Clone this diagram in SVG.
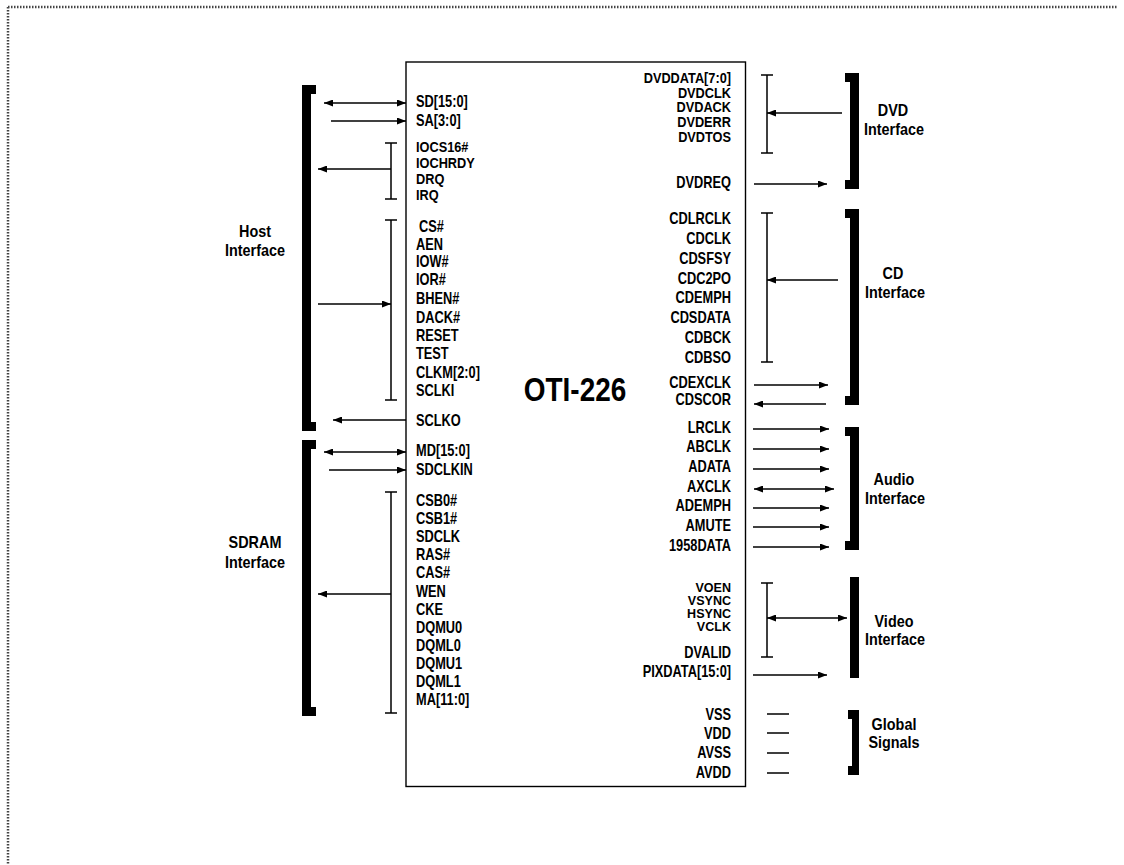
<svg xmlns="http://www.w3.org/2000/svg" width="1124" height="865" viewBox="0 0 1124 865">
<style>
.t{font-family:"Liberation Sans",Arial,sans-serif;font-weight:bold;font-size:16px;fill:#000}
.c{font-size:15px}
.s{font-size:13.5px}
.e{text-anchor:end}
.m{text-anchor:middle;font-size:16px}
.w{stroke:#000;stroke-width:1.5;fill:none}
.a{marker-end:url(#ah)}
.d{marker-start:url(#ah);marker-end:url(#ah)}
.br{fill:#000}
</style>
<defs>
<marker id="ah" viewBox="0 0 9 7" refX="9" refY="3.5" markerWidth="9" markerHeight="7" markerUnits="userSpaceOnUse" orient="auto-start-reverse"><path d="M0,0 L9,3.5 L0,7 z" fill="#000"/></marker>
</defs>
<rect width="1124" height="865" fill="#fff"/>
<g id="border">
<path d="M8,7 H1117 M8,7 V865" stroke="#444" stroke-width="2.5" stroke-dasharray="1.5 1.5" fill="none"/>
</g>
<g id="chip">
<rect x="406" y="62" width="339.5" height="724.5" fill="none" stroke="#000" stroke-width="1.4"/>
<text class="t" text-anchor="middle" transform="translate(575,400.5) scale(0.86,1)" style="font-size:32.5px">OTI-226</text>
</g>
<g id="host-pins">
<text class="t" transform="translate(416,107) scale(0.8,1)">SD[15:0]</text>
<text class="t" transform="translate(416,125.5) scale(0.8,1)">SA[3:0]</text>
<text class="t c" transform="translate(416,151.5) scale(0.85,1)">IOCS16#</text>
<text class="t c" transform="translate(416,167.5) scale(0.85,1)">IOCHRDY</text>
<text class="t c" transform="translate(416,184) scale(0.85,1)">DRQ</text>
<text class="t c" transform="translate(416,200) scale(0.85,1)">IRQ</text>
<text class="t" transform="translate(419,231.5) scale(0.8,1)">CS#</text>
<text class="t" transform="translate(416,249.5) scale(0.8,1)">AEN</text>
<text class="t" transform="translate(416,267) scale(0.8,1)">IOW#</text>
<text class="t" transform="translate(416,285) scale(0.8,1)">IOR#</text>
<text class="t" transform="translate(416,304) scale(0.8,1)">BHEN#</text>
<text class="t" transform="translate(416,322.5) scale(0.8,1)">DACK#</text>
<text class="t" transform="translate(416,340.5) scale(0.8,1)">RESET</text>
<text class="t" transform="translate(416,359) scale(0.8,1)">TEST</text>
<text class="t" transform="translate(416,377.5) scale(0.8,1)">CLKM[2:0]</text>
<text class="t" transform="translate(416,396) scale(0.8,1)">SCLKI</text>
<text class="t" transform="translate(416,426) scale(0.8,1)">SCLKO</text>
</g>
<g id="sdram-pins">
<text class="t" transform="translate(416,455.5) scale(0.8,1)">MD[15:0]</text>
<text class="t" transform="translate(416,475) scale(0.8,1)">SDCLKIN</text>
<text class="t" transform="translate(416,506) scale(0.8,1)">CSB0#</text>
<text class="t" transform="translate(416,524) scale(0.8,1)">CSB1#</text>
<text class="t" transform="translate(416,542) scale(0.8,1)">SDCLK</text>
<text class="t" transform="translate(416,560) scale(0.8,1)">RAS#</text>
<text class="t" transform="translate(416,578) scale(0.8,1)">CAS#</text>
<text class="t" transform="translate(416,596.5) scale(0.8,1)">WEN</text>
<text class="t" transform="translate(416,614.5) scale(0.8,1)">CKE</text>
<text class="t" transform="translate(416,632.5) scale(0.8,1)">DQMU0</text>
<text class="t" transform="translate(416,651) scale(0.8,1)">DQML0</text>
<text class="t" transform="translate(416,669) scale(0.8,1)">DQMU1</text>
<text class="t" transform="translate(416,687) scale(0.8,1)">DQML1</text>
<text class="t" transform="translate(416,705) scale(0.8,1)">MA[11:0]</text>
</g>
<g id="dvd-pins">
<text class="t c e" transform="translate(731,83) scale(0.85,1)">DVDDATA[7:0]</text>
<text class="t c e" transform="translate(731,97.5) scale(0.85,1)">DVDCLK</text>
<text class="t c e" transform="translate(731,112) scale(0.85,1)">DVDACK</text>
<text class="t c e" transform="translate(731,126.5) scale(0.85,1)">DVDERR</text>
<text class="t c e" transform="translate(731,141.5) scale(0.85,1)">DVDTOS</text>
<text class="t e" transform="translate(731,188) scale(0.8,1)">DVDREQ</text>
</g>
<g id="cd-pins">
<text class="t e" transform="translate(731,223.5) scale(0.8,1)">CDLRCLK</text>
<text class="t e" transform="translate(731,243.5) scale(0.8,1)">CDCLK</text>
<text class="t e" transform="translate(731,263.5) scale(0.8,1)">CDSFSY</text>
<text class="t e" transform="translate(731,283.5) scale(0.8,1)">CDC2PO</text>
<text class="t e" transform="translate(731,303) scale(0.8,1)">CDEMPH</text>
<text class="t e" transform="translate(731,323) scale(0.8,1)">CDSDATA</text>
<text class="t e" transform="translate(731,343) scale(0.8,1)">CDBCK</text>
<text class="t e" transform="translate(731,363) scale(0.8,1)">CDBSO</text>
<text class="t e" transform="translate(731,388) scale(0.8,1)">CDEXCLK</text>
<text class="t e" transform="translate(731,405) scale(0.8,1)">CDSCOR</text>
</g>
<g id="audio-pins">
<text class="t e" transform="translate(731,433) scale(0.8,1)">LRCLK</text>
<text class="t e" transform="translate(731,452) scale(0.8,1)">ABCLK</text>
<text class="t e" transform="translate(731,471.5) scale(0.8,1)">ADATA</text>
<text class="t e" transform="translate(731,491.5) scale(0.8,1)">AXCLK</text>
<text class="t e" transform="translate(731,511) scale(0.8,1)">ADEMPH</text>
<text class="t e" transform="translate(731,530.5) scale(0.8,1)">AMUTE</text>
<text class="t e" transform="translate(731,551) scale(0.8,1)">1958DATA</text>
</g>
<g id="video-pins">
<text class="t s e" transform="translate(731,591.5) scale(0.93,1)">VOEN</text>
<text class="t s e" transform="translate(731,604.5) scale(0.93,1)">VSYNC</text>
<text class="t s e" transform="translate(731,617.5) scale(0.93,1)">HSYNC</text>
<text class="t s e" transform="translate(731,630.5) scale(0.93,1)">VCLK</text>
<text class="t e" transform="translate(731,658) scale(0.8,1)">DVALID</text>
<text class="t e" transform="translate(731,677) scale(0.8,1)">PIXDATA[15:0]</text>
</g>
<g id="global-pins">
<text class="t e" transform="translate(731,719.5) scale(0.8,1)">VSS</text>
<text class="t e" transform="translate(731,739) scale(0.8,1)">VDD</text>
<text class="t e" transform="translate(731,758) scale(0.8,1)">AVSS</text>
<text class="t e" transform="translate(731,778) scale(0.8,1)">AVDD</text>
</g>
<g id="host-interface">
<path class="br" d="M302,85 H316 V94 H311 V422 H316 V431 H302 Z"/>
<text class="t m" transform="translate(255,237) scale(0.9,1)">Host</text>
<text class="t m" transform="translate(255,256) scale(0.9,1)">Interface</text>
</g>
<g id="sdram-interface">
<path class="br" d="M302,440 H316 V449 H311 V707 H316 V716 H302 Z"/>
<text class="t m" transform="translate(255,548) scale(0.9,1)">SDRAM</text>
<text class="t m" transform="translate(255,568) scale(0.9,1)">Interface</text>
</g>
<g id="dvd-interface">
<path class="br" d="M845,73 H859 V189 H845 V180 H850 V82 H845 Z"/>
<text class="t m" transform="translate(893,116) scale(0.9,1)">DVD</text>
<text class="t m" transform="translate(894,135) scale(0.9,1)">Interface</text>
</g>
<g id="cd-interface">
<path class="br" d="M845,209 H859 V405 H845 V396 H850 V218 H845 Z"/>
<text class="t m" transform="translate(893,279) scale(0.9,1)">CD</text>
<text class="t m" transform="translate(895,298) scale(0.9,1)">Interface</text>
</g>
<g id="audio-interface">
<path class="br" d="M845,427 H859 V550 H845 V541 H850 V436 H845 Z"/>
<text class="t m" transform="translate(894,485) scale(0.9,1)">Audio</text>
<text class="t m" transform="translate(895,504) scale(0.9,1)">Interface</text>
</g>
<g id="video-interface">
<path class="br" d="M850,577 H859 V678 H850 Z"/>
<text class="t m" transform="translate(894,627) scale(0.9,1)">Video</text>
<text class="t m" transform="translate(895,645) scale(0.9,1)">Interface</text>
</g>
<g id="global-signals">
<path class="br" d="M848,710 H859 V775 H848 V766 H852 V719 H848 Z"/>
<text class="t m" transform="translate(894,730) scale(0.9,1)">Global</text>
<text class="t m" transform="translate(894,748) scale(0.9,1)">Signals</text>
</g>
<g id="connectors">
<path class="w" d="M385,143 H397 M391,143 V199 M385,199 H397"/>
<path class="w" d="M385,220 H397 M391,220 V400 M385,400 H397"/>
<path class="w" d="M385,492 H397 M391,492 V713 M385,713 H397"/>
<path class="w" d="M761,75 H773 M767,75 V153 M761,153 H773"/>
<path class="w" d="M761,213 H773 M767,213 V362 M761,362 H773"/>
<path class="w" d="M761,583 H773 M767,583 V657 M761,657 H773"/>
<line class="w d" x1="324" y1="103" x2="406" y2="103"/>
<line class="w a" x1="331" y1="121" x2="406" y2="121"/>
<line class="w a" x1="391" y1="169" x2="318" y2="169"/>
<line class="w a" x1="318" y1="304" x2="391" y2="304"/>
<line class="w a" x1="406" y1="420" x2="333" y2="420"/>
<line class="w d" x1="324" y1="452" x2="406" y2="452"/>
<line class="w a" x1="329" y1="470" x2="406" y2="470"/>
<line class="w a" x1="391" y1="594" x2="318" y2="594"/>
<line class="w a" x1="842" y1="113" x2="767" y2="113"/>
<line class="w a" x1="754" y1="184" x2="827" y2="184"/>
<line class="w a" x1="838" y1="280" x2="767" y2="280"/>
<line class="w a" x1="754" y1="385" x2="828" y2="385"/>
<line class="w a" x1="826" y1="404" x2="754" y2="404"/>
<line class="w a" x1="753" y1="429" x2="829" y2="429"/>
<line class="w a" x1="753" y1="449" x2="829" y2="449"/>
<line class="w a" x1="753" y1="469" x2="829" y2="469"/>
<line class="w d" x1="754" y1="489" x2="834" y2="489"/>
<line class="w a" x1="753" y1="508" x2="829" y2="508"/>
<line class="w a" x1="753" y1="527" x2="829" y2="527"/>
<line class="w a" x1="753" y1="547" x2="829" y2="547"/>
<line class="w d" x1="767" y1="618" x2="847" y2="618"/>
<line class="w a" x1="753" y1="675" x2="827" y2="675"/>
<path class="w" d="M767,714 H789 M767,733 H789 M767,753 H789 M767,773 H789"/>
</g>
</svg>
